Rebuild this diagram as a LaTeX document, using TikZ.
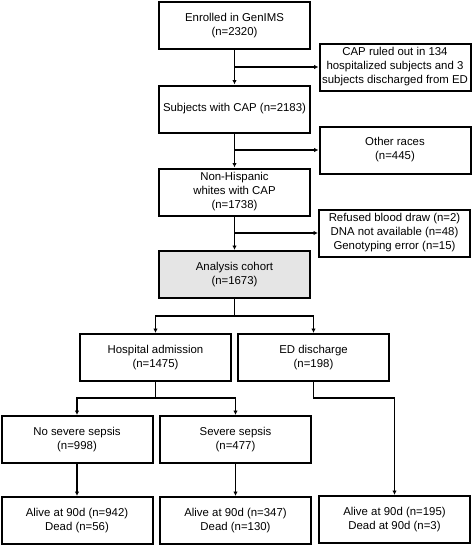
\documentclass[tikz,border=0pt]{standalone}
\usepackage{fontspec}
\setmainfont{Liberation Sans}
\usetikzlibrary{arrows.meta, positioning}

\tikzset{
  box/.style={draw, line width=2pt, minimum width=151pt, minimum height=47pt,
    inner xsep=1pt, align=center, font=\fontsize{11.4}{14}\selectfont},
  line/.style={line width=1.4pt, -{Latex[length=4.5pt,width=4.5pt]}},
}

\begin{document}
\begin{tikzpicture}[x=1pt, y=-1pt]
  %tikz  flow of subjects, GenIMS
    \useasboundingbox (0,0) rectangle (472,546);
    % main column
    \node[box] (enrol) at (234.5,25.5) {Enrolled in GenIMS\\(n=2320)};
    \node[box] (cap) at (234.5,109) {Subjects with CAP (n=2183)};
    \node[box] (white) at (234.5,192) {Non-Hispanic\\whites with CAP\\(n=1738)};
    \node[box, fill=black!10] (cohort) at (234.5,274.5) {Analysis cohort\\(n=1673)};
    % exclusions
    \node[box] (ruled) at (395,67) {CAP ruled out in 134\\hospitalized subjects and 3\\subjects discharged from ED};
    \node[box] (races) at (395,150) {Other races\\(n=445)};
    \node[box] (refused) at (394.5,233) {Refused blood draw (n=2)\\DNA not available (n=48)\\Genotyping error (n=15)};
    % split
    \node[box] (hosp) at (155.5,357.5) {Hospital admission\\(n=1475)};
    \node[box] (ed) at (313.5,357.5) {ED discharge\\(n=198)};
    \node[box] (nosep) at (77,439.5) {No severe sepsis\\(n=998)};
    \node[box] (sep) at (235.5,439.5) {Severe sepsis\\(n=477)};
    % outcomes
    \node[box] (out1) at (77,520.5) {Alive at 90d (n=942)\\Dead (n=56)};
    \node[box] (out2) at (235.5,520.5) {Alive at 90d (n=347)\\Dead (n=130)};
    \node[box] (out3) at (394.5,519.5) {Alive at 90d (n=195)\\Dead at 90d (n=3)};

    \draw[line] (enrol) -- (cap);
    \draw[line] (enrol.south |- ruled.west) -- (ruled.west);
    \draw[line] (cap) -- (white);
    \draw[line] (cap.south |- races.west) -- (races.west);
    \draw[line] (white) -- (cohort);
    \draw[line] (white.south |- refused.west) -- (refused.west);
    \draw[line] (cohort.south) -- ++(0,17) -| (hosp.north);
    \draw[line] (cohort.south) -- ++(0,17) -| (ed.north);
    \draw[line] (hosp.south) -- ++(0,16) -| (nosep.north);
    \draw[line] (hosp.south) -- ++(0,16) -| (sep.north);
    \draw[line] (ed.south) -- ++(0,16) -| (out3.north);
    \draw[line] (nosep) -- (out1);
    \draw[line] (sep) -- (out2);
  \end{tikzpicture}
\end{document}
